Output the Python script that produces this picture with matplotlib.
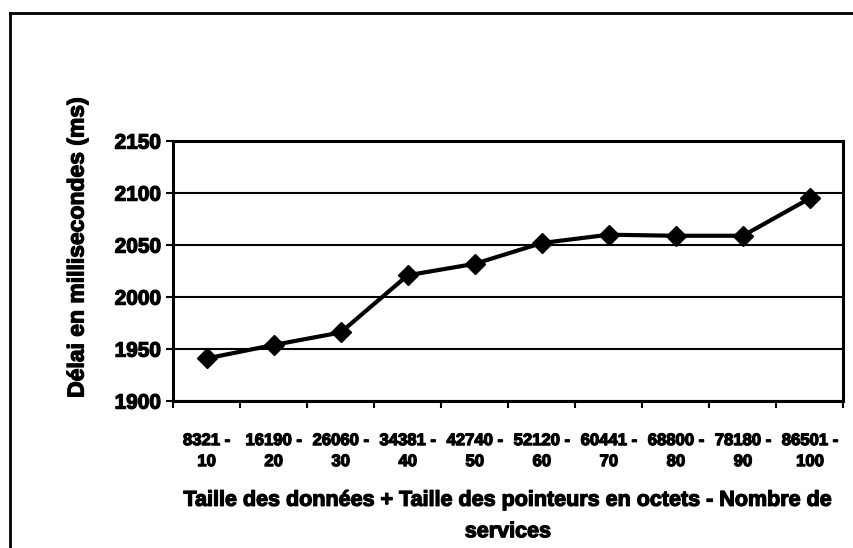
import matplotlib
matplotlib.use("Agg")
import matplotlib.pyplot as plt
import matplotlib.patheffects as pe
from matplotlib.lines import Line2D

# data
sizes = [8321, 16190, 26060, 34381, 42740, 52120, 60441, 68800, 78180, 86501]
services = [10, 20, 30, 40, 50, 60, 70, 80, 90, 100]
delays = [1941, 1954, 1966, 2021, 2032, 2052, 2060, 2059, 2059, 2095]
y_ticks = [1900, 1950, 2000, 2050, 2100, 2150]

plt.rcParams["font.family"] = ["Liberation Sans", "DejaVu Sans"]
plt.rcParams["font.weight"] = "bold"
heavy = [pe.withStroke(linewidth=0.9, foreground="black")]

fig = plt.figure(figsize=(8.54, 5.48), dpi=100)
ax = fig.add_axes([0.2026, 0.268, 0.785, 0.4745])

x = list(range(len(delays)))
ax.plot(x, delays, color="black", lw=3, marker="D", ms=10, mfc="black", mec="black")

ax.set_ylim(1900, 2150)
ax.set_yticks(y_ticks)
ax.set_yticklabels([str(v) for v in y_ticks], fontsize=15, fontweight="bold")
ax.yaxis.grid(True, color="black", lw=1.5)
ax.set_axisbelow(True)

ax.set_xlim(-0.5, len(delays) - 0.5)
ax.set_xticks(x)
ax.set_xticklabels([f"{s} -\n{n}" for s, n in zip(sizes, services)],
                   fontsize=12, fontweight="bold", linespacing=1.5)
ax.tick_params(axis="x", length=0, pad=23)
ax.set_xticks([i - 0.5 for i in range(len(delays) + 1)], minor=True)
ax.tick_params(axis="x", which="minor", length=5, width=1.5, direction="out")
ax.tick_params(axis="y", length=5, width=1.5, direction="out")

for lbl in ax.get_xticklabels() + ax.get_yticklabels():
    lbl.set_path_effects(heavy)

for sp in ax.spines.values():
    sp.set_linewidth(2.2)
    sp.set_color("black")

fig.text(77 / 854, 1 - 248 / 548, "Délai en millisecondes (ms)", rotation=90,
         ha="center", va="center", fontsize=16.5, fontweight="bold", path_effects=heavy)
fig.text(508 / 854, 1 - 516 / 548,
         "Taille des données + Taille des pointeurs en octets - Nombre de\nservices",
         ha="center", va="center", fontsize=15.5, fontweight="bold",
         linespacing=1.65, path_effects=heavy)

# outer chart border (runs off the right and bottom edges)
fig.add_artist(Line2D([10 / 854, 10 / 854], [1 - 13 / 548, 0], transform=fig.transFigure,
                      color="black", lw=2))
fig.add_artist(Line2D([10 / 854, 1], [1 - 13 / 548, 1 - 13 / 548], transform=fig.transFigure,
                      color="black", lw=2))

fig.savefig("out.png", dpi=100)
